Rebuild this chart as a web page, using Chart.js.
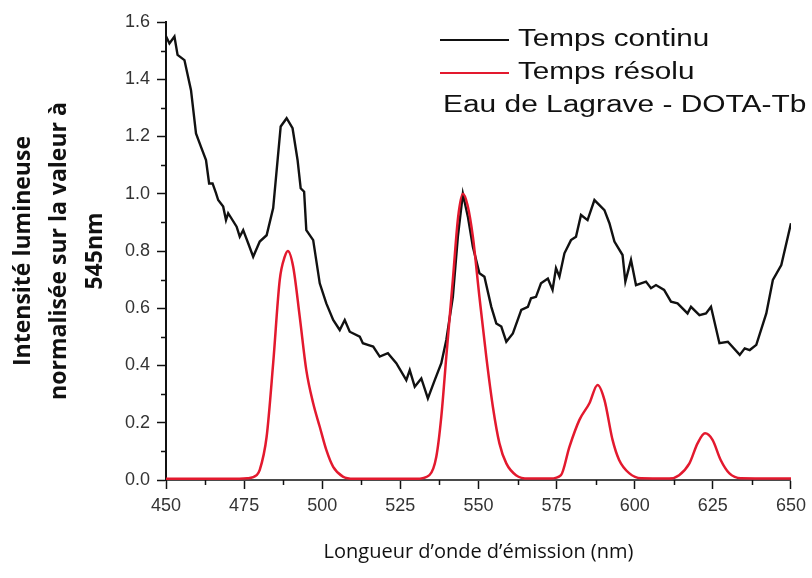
<!DOCTYPE html>
<html>
<head>
<meta charset="utf-8">
<title>Temps continu / Temps résolu</title>
<script src="https://cdn.jsdelivr.net/npm/chart.js@4/dist/chart.umd.min.js"></script>
<style>
  html, body { margin: 0; padding: 0; background: #fff; }
  #wrap { position: relative; width: 812px; height: 578px; }
</style>
</head>
<body>
<div id="wrap"><canvas id="spectre"></canvas></div>
<script>
// Temps continu (courbe noire) : longueur d'onde (nm) et intensité normalisée
var contWl = [450, 451.1, 452.7, 453.7, 455.9, 458.0, 459.6, 461.2, 462.8, 463.8, 464.9, 466.0, 466.7, 468.3, 469.2,
  469.9, 472.6, 473.6, 474.7, 476.3, 477.9, 480.0, 482.2, 484.3, 486.7, 488.6, 490.5, 492.1, 493.1, 494.2, 494.9,
  497.1, 499.2, 501.3, 503.5, 505.6, 507.2, 508.8, 512.0, 513.0, 514.6, 516.3, 518.4, 521.0, 523.7, 526.9, 528.0,
  529.6, 531.7, 533.8, 536.0, 538.1, 539.7, 541.8, 543.4, 545.0, 546.6, 548.2, 550.3, 551.9, 554.1, 555.7, 557.3,
  558.9, 561.0, 563.7, 565.8, 566.8, 568.4, 570.0, 572.2, 573.7, 574.8, 575.9, 577.5, 579.6, 581.2, 582.8, 584.9,
  587.1, 590.3, 591.9, 593.5, 596.1, 597.0, 598.8, 600.4, 603.6, 605.2, 606.8, 609.4, 611.6, 613.7, 616.9, 618.0,
  620.7, 622.8, 624.4, 627.1, 629.8, 633.6, 635.2, 636.8, 638.9, 642.1, 644.2, 646.9, 650];
var contVal = [1.55, 1.525, 1.549, 1.485, 1.467, 1.362, 1.211, 1.164, 1.118, 1.036, 1.036, 1.002, 0.978, 0.955, 0.908,
  0.932, 0.885, 0.85, 0.873, 0.827, 0.78, 0.833, 0.855, 0.95, 1.235, 1.264, 1.229, 1.118, 1.019, 1.007, 0.873,
  0.838, 0.687, 0.617, 0.559, 0.524, 0.559, 0.518, 0.501, 0.478, 0.472, 0.466, 0.431, 0.443, 0.408, 0.349, 0.384,
  0.326, 0.355, 0.285, 0.349, 0.408, 0.489, 0.64, 0.85, 1.0, 0.92, 0.815, 0.722, 0.71, 0.605, 0.547, 0.536,
  0.483, 0.512, 0.594, 0.605, 0.635, 0.64, 0.687, 0.704, 0.664, 0.74, 0.71, 0.792, 0.838, 0.85, 0.926, 0.908,
  0.978, 0.943, 0.897, 0.833, 0.786, 0.693, 0.769, 0.681, 0.693, 0.67, 0.681, 0.664, 0.623, 0.617, 0.582, 0.605,
  0.576, 0.582, 0.605, 0.478, 0.483, 0.437, 0.46, 0.454, 0.472, 0.582, 0.699, 0.751, 0.897];

// Temps résolu (courbe rouge)
var resWl = [450, 470, 476, 479, 480, 482.2, 484.3, 486.4, 488, 489, 490.7, 492.8, 494.9, 497.1, 499.2, 501.3,
  503.5, 506.6, 510, 530, 534.3, 536.5, 538.1, 539.7, 541.8, 543.5, 545, 546.5, 548.2, 550.3, 552.5, 554.6,
  556.7, 558.9, 562, 566, 573, 576.4, 579.1, 582.3, 585.5, 588.1, 590.3, 592.9, 595, 598.3, 602, 611, 614.2,
  617.5, 620.1, 622.5, 624.9, 627.5, 630.3, 634, 650];
var resVal = [0.004, 0.004, 0.006, 0.017, 0.035, 0.151, 0.408, 0.699, 0.78, 0.80, 0.745, 0.57, 0.384, 0.268, 0.186, 0.105,
  0.046, 0.012, 0.004, 0.004, 0.017, 0.081, 0.221, 0.431, 0.70, 0.92, 1.0, 0.96, 0.85, 0.64, 0.43, 0.256,
  0.128, 0.058, 0.017, 0.005, 0.005, 0.017, 0.116, 0.21, 0.268, 0.332, 0.28, 0.14, 0.07, 0.023, 0.006, 0.005, 0.017,
  0.058, 0.128, 0.163, 0.14, 0.07, 0.023, 0.006, 0.005];

var seriesNames = ["Temps continu", "Temps résolu"];
var sampleName = "Eau de Lagrave - DOTA-Tb";
var xTitle = "Longueur d’onde d’émission (nm)";
var yTitle = ["Intensité lumineuse", "normalisée sur la valeur à", "545nm"];

function toPoints(xs, ys) {
  return xs.map(function (x, i) { return { x: x, y: ys[i] }; });
}

// petits traits secondaires entre les graduations principales
var minorTicks = {
  id: "minorTicks",
  afterDraw: function (chart) {
    var ctx = chart.ctx, area = chart.chartArea;
    var xs = chart.scales.x, ys = chart.scales.y;
    ctx.save();
    ctx.strokeStyle = "#111";
    ctx.lineWidth = 1.5;
    ctx.beginPath();
    for (var v = 0.1; v < 1.6; v += 0.2) {
      var py = Math.round(ys.getPixelForValue(v)) + 0.5;
      ctx.moveTo(area.left - 5, py);
      ctx.lineTo(area.left, py);
    }
    for (var w = 462.5; w < 650; w += 25) {
      var px = Math.round(xs.getPixelForValue(w)) + 0.5;
      ctx.moveTo(px, area.bottom);
      ctx.lineTo(px, area.bottom + 5);
    }
    ctx.stroke();
    ctx.restore();
  }
};

// légende dessinée à la main, en haut à droite
var legendBox = {
  id: "legendBox",
  afterDraw: function (chart) {
    var ctx = chart.ctx;
    var rows = [
      { color: "#111", text: seriesNames[0], y: 40 },
      { color: "#e3192e", text: seriesNames[1], y: 73 }
    ];
    ctx.save();
    ctx.font = "23px 'Liberation Sans', Arial, sans-serif";
    ctx.fillStyle = "#111";
    ctx.textBaseline = "middle";
    rows.forEach(function (r) {
      ctx.strokeStyle = r.color;
      ctx.lineWidth = 2;
      ctx.beginPath();
      ctx.moveTo(440, r.y);
      ctx.lineTo(509, r.y);
      ctx.stroke();
      ctx.save();
      ctx.translate(518, r.y);
      ctx.scale(1.29, 1);
      ctx.fillText(r.text, 0, 0);
      ctx.restore();
    });
    ctx.save();
    ctx.translate(443, 106);
    ctx.scale(1.3, 1);
    ctx.fillText(sampleName, 0, 0);
    ctx.restore();
    ctx.restore();
  }
};

var ctx = document.getElementById("spectre").getContext("2d");
var chart = new Chart(ctx, {
  type: "line",
  data: {
    datasets: [
      {
        label: seriesNames[1],
        data: toPoints(resWl, resVal),
        borderColor: "#e3192e",
        borderWidth: 2.5,
        pointRadius: 0,
        cubicInterpolationMode: "monotone",
        order: 1
      },
      {
        label: seriesNames[0],
        data: toPoints(contWl, contVal),
        borderColor: "#111",
        borderWidth: 2.4,
        pointRadius: 0,
        tension: 0,
        order: 2
      }
    ]
  },
  options: {
    responsive: true,
    maintainAspectRatio: false,
    animation: false,
    layout: { padding: { top: 22, right: 20, left: 0, bottom: 0 } },
    plugins: {
      legend: { display: false },
      tooltip: { enabled: false }
    },
    scales: {
      x: {
        type: "linear",
        min: 450,
        max: 650,
        afterFit: function (scale) { scale.height = 98; },
        ticks: {
          stepSize: 25,
          padding: 6,
          color: "#333",
          font: { family: "'Liberation Sans', Arial, sans-serif", size: 18 }
        },
        grid: { drawOnChartArea: false, tickLength: 9, tickColor: "#111", tickWidth: 1.5 },
        border: { color: "#4a4a4a", width: 2 },
        title: {
          display: true,
          text: xTitle,
          color: "#111",
          padding: { top: 0, bottom: 14 },
          font: { family: "'Open Sans', sans-serif", size: 20 }
        }
      },
      y: {
        min: 0,
        max: 1.6,
        afterFit: function (scale) { scale.width = 166; },
        ticks: {
          stepSize: 0.2,
          padding: 7,
          color: "#333",
          font: { family: "'Liberation Sans', Arial, sans-serif", size: 18 },
          callback: function (v) { return v.toFixed(1); }
        },
        grid: { drawOnChartArea: false, tickLength: 9, tickColor: "#111", tickWidth: 1.5 },
        border: { color: "#111", width: 2 },
        title: {
          display: true,
          text: yTitle,
          color: "#111",
          padding: { top: 5, bottom: 0 },
          font: { family: "'Open Sans', sans-serif", size: 23, weight: "bold", lineHeight: 1.57 }
        }
      }
    }
  },
  plugins: [minorTicks, legendBox]
});
</script>
</body>
</html>
